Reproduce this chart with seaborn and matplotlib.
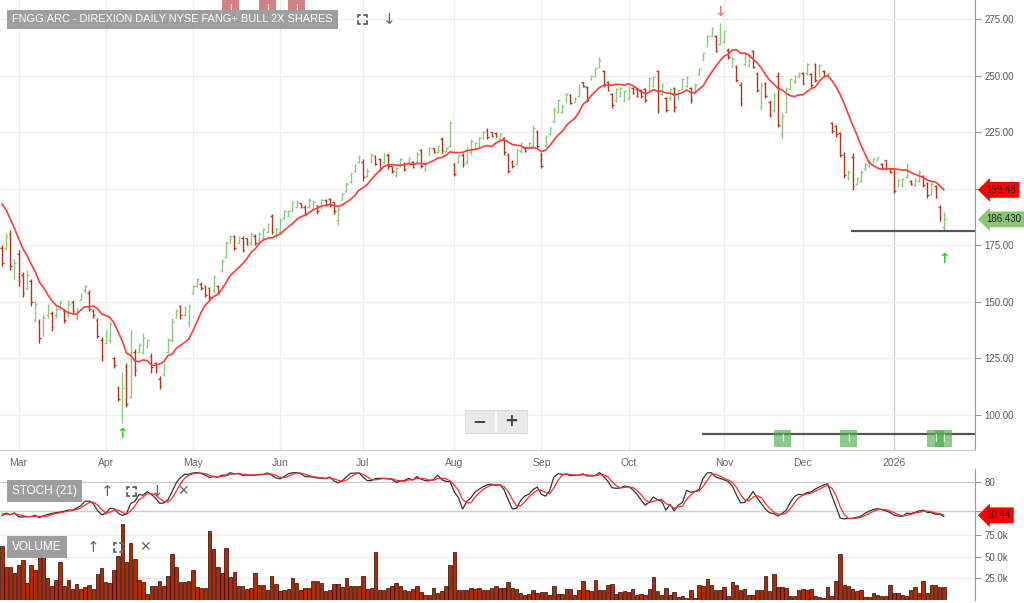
import numpy as np
import pandas as pd
import seaborn as sns
import matplotlib
import matplotlib.pyplot as plt
from matplotlib.lines import Line2D
from matplotlib.patches import FancyBboxPatch
import matplotlib.transforms as mtrans

matplotlib.use('Agg')

# ---- data (daily bars, 2025-02-25 .. 2026-01-21) ----
opens = [
    174, 174, 180, 161, 171, 162, 156, 159, 142, 141,
    136, 144, 145, 144, 147, 146, 144, 150, 143, 151,
    155, 154, 146, 142, 133, 132, 133, 125, 112, 100,
    121, 108, 128, 128, 128, 130, 126, 123, 116, 118,
    128, 133, 143, 148, 144, 141, 154, 157, 158, 157,
    156, 155, 157, 164, 170, 176, 179, 176, 178, 178,
    176, 179, 177, 178, 181, 188, 179, 181, 187, 188,
    190, 192, 193.5, 192, 192, 191, 193, 192, 195, 195.5,
    194, 186, 195, 199, 203, 208, 212, 212, 205.5, 212,
    214.5, 213, 212, 215, 210, 206, 210, 211, 211, 212,
    212, 217, 208.5, 215.5, 218, 216, 222, 216.5, 219, 211,
    212, 215, 212, 216, 217.5, 219, 222.5, 226, 225, 224.5,
    222, 222.5, 215, 212, 211, 216.5, 218, 218.5, 219, 225,
    215, 219, 224, 230, 234, 234, 239, 241.5, 238.5, 241,
    247, 245, 248.5, 250, 254, 252, 247, 242, 239, 241,
    239, 240, 244.5, 244, 243.5, 244, 243.5, 245.5, 252, 242,
    240, 240, 244.5, 240, 244, 245.5, 244.5, 243, 250.5, 257,
    263, 267.5, 267.5, 264, 265, 261.5, 254, 254, 246, 255,
    254.5, 261, 251, 236, 246.5, 238.5, 235, 250, 224, 234,
    244, 247, 249.5, 251, 251, 250.5, 255, 250, 252, 249.6,
    229, 227.5, 224.5, 215, 204.5, 214, 202, 203.5, 208.5, 210,
    211.5, 212.5, 211, 212.5, 209, 208.5, 201, 201.5, 205, 203.5,
    201.5, 203.5, 205.5, 202.5, 197.5, 201, 192, 183,
]
highs = [
    175, 180.4, 181.8, 169, 173, 163, 164, 160, 150.6, 142.4,
    144.6, 149, 146, 148.6, 151, 146.8, 150.8, 150.8, 147.7, 154,
    157.5, 155, 147, 143, 134.5, 137.6, 141.5, 125.6, 113, 119,
    123, 137.6, 129, 131.8, 136, 133.6, 127.4, 123.4, 117, 123,
    134, 142.9, 147, 148.6, 148, 149, 157.5, 160.5, 158.8, 157.5,
    156.6, 162, 157.5, 169, 177, 179.5, 179.5, 179, 179, 178,
    181, 180, 181, 182.6, 184.8, 189, 182.6, 187, 190.6, 190.6,
    194.6, 195, 193.7, 192.8, 196, 195, 193, 195.5, 195.5, 196,
    194, 192, 198, 203, 207.4, 211, 215, 213, 209, 215.8,
    215, 213.6, 215.8, 215.8, 210, 209.6, 213.6, 211.8, 214, 212.3,
    216, 217.6, 211.4, 218.4, 218, 219.3, 223, 218.4, 230, 211.4,
    215.4, 215.8, 218.4, 222, 220.6, 223, 225.5, 226.8, 225, 225,
    224.6, 223, 215.8, 212.7, 218, 220.6, 218.4, 220.6, 228, 226,
    216, 223.7, 227.3, 236, 239.6, 237, 242.3, 241.9, 240.5, 246.3,
    247, 245.4, 250.3, 253.8, 258, 252.5, 247.6, 242.3, 244.5, 245,
    243.6, 245.4, 245, 244.5, 244, 244.5, 249.4, 249.8, 252.5, 246.7,
    240.5, 244.5, 245, 244, 249, 249.8, 245, 246.7, 253.4, 260.4,
    268, 271.5, 268, 273.2, 269.7, 262, 258, 254.7, 247, 260.4,
    260, 261.3, 251.6, 247, 247, 239, 242.3, 251.6, 233.5, 245,
    249, 250.3, 251.6, 251.6, 255.5, 251, 255.5, 255, 252.5, 251.6,
    229.5, 228, 225, 216, 208.3, 215.8, 205, 208.3, 211.4, 212.7,
    213.6, 214, 211.4, 212.7, 209, 209, 204.7, 204.7, 211.4, 203.9,
    204.7, 208.3, 206, 203, 203, 201.6, 192.8, 189.7,
]
lows = [
    166, 173, 164, 160, 157, 152, 155, 148, 141, 132,
    135, 143, 137, 143, 146.8, 140.7, 142.9, 145, 142, 150.8,
    154, 146, 143, 134, 124, 131.8, 132, 120.8, 106, 96.5,
    103.5, 107.5, 117, 127.4, 127, 129.6, 118.6, 118.6, 111.5, 117,
    127.4, 132.3, 143, 142.4, 143.8, 139, 153.5, 156.6, 155, 152,
    150.8, 154, 153.5, 163, 169.8, 176, 173, 176, 172, 175,
    175, 175, 176, 177, 181, 180, 178, 180, 186, 187.5,
    189.7, 192, 191.5, 188, 191.5, 190.6, 188.8, 191, 192.4, 192,
    189, 184, 195, 198.5, 202.5, 207.4, 211.4, 203.4, 205, 211.4,
    210.5, 208, 211.4, 208.7, 207, 205, 209.6, 207.8, 210.5, 209,
    211.4, 209, 207.8, 215, 215.8, 215.8, 215.8, 216, 218.4, 205.6,
    211.4, 209.6, 211, 215, 217, 218.4, 222, 222, 223, 223,
    221.5, 215, 207, 209, 210.5, 215.8, 216, 218, 218.4, 218,
    209, 218.4, 223.7, 229, 233.5, 233.5, 238.3, 237.4, 238.3, 240.5,
    245, 238.3, 248, 249.4, 253.4, 245, 243, 235.7, 238.3, 240.5,
    238.3, 239.2, 241.9, 240.5, 240, 238.3, 243, 245, 233.5, 241.4,
    234, 239.2, 234, 239.2, 243.6, 245, 237.9, 242.3, 250.3, 256.9,
    262.6, 267, 260.4, 263.5, 264.4, 257.3, 253.8, 247, 236.6, 254.7,
    253.8, 253.4, 242.7, 234.8, 240, 231.7, 234, 227.3, 222.4, 233.5,
    243.6, 246.7, 249.4, 245.8, 250.3, 245, 247, 249.4, 249.4, 249.4,
    224.6, 223, 214, 204.7, 203.9, 199.4, 201.6, 203, 208.3, 209.6,
    211.4, 212.3, 208.7, 208.3, 207, 198, 200.8, 200.8, 204.7, 201.6,
    201.2, 203, 200.8, 196, 197, 196, 185.7, 181.8,
]
closes = [
    167, 179, 166, 167, 159, 154, 162, 150, 149, 134,
    143, 148, 139, 147, 150, 142, 149, 146, 147, 153,
    157, 147, 144, 135, 126, 136, 140, 122, 107, 112,
    105, 136, 120, 131, 134, 133, 121, 120, 113, 122,
    133, 141, 146, 144, 147, 148, 157, 160, 156, 153,
    152, 161, 154, 168, 176, 179, 174, 178, 173, 175,
    180, 176, 180, 182, 184, 181, 182, 186, 190, 190,
    194, 194.5, 192, 189, 195, 194, 190, 195, 193, 193,
    190, 191, 197.5, 202, 207, 210.5, 214.5, 205, 208, 215,
    211, 209, 215, 210, 208, 209, 213, 208.5, 213.5, 209.5,
    215.5, 210, 211, 218, 216, 219, 217, 218, 229, 206.5,
    215, 211, 218, 221, 220, 222.5, 225, 223, 223.5, 223.2,
    224, 216, 208, 210, 217, 220, 216.5, 220, 227, 219,
    210, 223, 227, 235, 239, 236.5, 242, 238, 240, 246,
    245.5, 239, 250, 253.5, 257, 246, 243.5, 237, 244, 244.5,
    243, 245, 242.5, 241, 241, 239, 249, 249.5, 235, 246,
    235, 244, 236, 243.5, 248.5, 249.5, 239, 246, 253, 260,
    267.5, 271, 261, 269, 269.5, 258, 257.5, 248, 238, 259.5,
    259, 254, 243.5, 246, 241, 232.5, 241.5, 228, 232, 244,
    248.5, 250, 251, 246.5, 255, 246, 248, 254.5, 250, 251.2,
    225.5, 224, 215, 206, 207.5, 201, 204.5, 207.5, 211, 212,
    213, 213.8, 209, 209, 207.5, 199, 204, 204.5, 210.5, 202,
    204, 207.5, 201.5, 197, 202, 196.5, 187.4, 186.43,
]
# volume in thousands
volumes = [
    61.9, 38.4, 38.4, 31.3, 41, 45.8, 20, 41, 35, 50.5,
    50.5, 25.8, 15.6, 23.5, 44, 15.6, 23.5, 12.9, 18.8, 12.9,
    15.3, 17.6, 12.9, 30, 36.8, 20.3, 20, 35, 50.9, 89,
    44, 65.7, 47, 23.5, 20.3, 6.7, 15.6, 16.4, 21.5, 15.6,
    27.4, 52.8, 38.4, 21, 21, 21.5, 35, 15.3, 14, 14,
    80, 58.7, 38.4, 31.3, 59.5, 26.6, 32.5, 15.6, 15.6, 12.9,
    14, 31, 17.6, 17.6, 12.1, 27.4, 18.8, 10, 11, 12.9,
    25.8, 20, 11, 14, 14, 21.5, 22, 20, 10, 12,
    18.8, 18.8, 15.3, 25.8, 15.6, 15.6, 16.4, 27.4, 12.9, 14,
    55.6, 12, 11, 14, 15.6, 20, 16.4, 12, 10, 12.9,
    15.6, 9.2, 6, 6, 14, 8, 10.6, 15.6, 41, 55.6,
    11, 11, 12, 14, 13, 14, 12, 12, 14, 15.6,
    14, 13.7, 20.3, 13.7, 12.5, 8, 6, 6.7, 11, 8,
    9.2, 9.2, 6, 15.6, 6.7, 6.7, 13, 13, 6, 11,
    21.5, 11, 10, 23.5, 11, 11, 17.6, 18.4, 6.7, 9.2,
    10, 9.2, 13, 6, 7, 6, 12.5, 26.2, 10, 6,
    13.7, 6, 9.2, 3.5, 5, 2.3, 12, 2.3, 17, 16.4,
    24.3, 17.6, 11, 11, 14.5, 4.3, 20.3, 17.6, 11, 13,
    5.5, 5.5, 11, 12, 27.4, 10, 30.5, 14.5, 15, 14,
    4.3, 4.3, 11, 12.5, 11, 13, 4.3, 3.5, 2.3, 15,
    5, 21.5, 52.8, 17.6, 15.6, 12.5, 10, 11, 3.5, 3.5,
    8, 6, 5, 4.3, 17.6, 8, 8, 6, 4.3, 12,
    15, 8.6, 22, 8.6, 17, 17, 15, 15,
]
# bars before the visible window, only used as indicator look-back
warm_closes = [205, 206, 208, 204, 198, 193, 188, 183, 180]
warm_highs = [209, 210, 211, 208, 203, 197, 192, 187, 184]
warm_lows = [201, 202, 204, 199, 193, 189, 183, 179, 175]

holidays = ['2025-04-18', '2025-05-26', '2025-06-19', '2025-07-04', '2025-09-01',
            '2025-11-27', '2025-12-25', '2026-01-01', '2026-01-19']
price_ticks = [100, 125, 150, 175, 200, 225, 250, 275]
vol_ticks = [25, 50, 75]
stoch_ticks = [20, 80]

title = "FNGG.ARC - DIREXION DAILY NYSE FANG+ BULL 2X SHARES"
last_close_label = "186.430"
ma_label = "199.48"
stoch_label = "10.44"

signal_up = [29, 227]
signal_up_price = [91.5, 169]
signal_down = [173]
signal_down_price = [278]
insider_sells = [55, 64, 71]
insider_buys = [188, 204, 225, 227]
support_level, support_from = 181.3, 204.5
events_level, events_from = 91.6, 168.8

n = len(closes)
assert len(opens) == n and len(highs) == n and len(lows) == n and len(volumes) == n

days = pd.bdate_range('2025-02-25', '2026-02-28')
days = days[~days.isin(pd.to_datetime(holidays))][:n]
idx = np.arange(n)

# indicators
c_all = pd.Series(warm_closes + closes, dtype=float)
h_all = pd.Series(warm_highs + highs, dtype=float)
l_all = pd.Series(warm_lows + lows, dtype=float)
w = len(warm_closes)
ma10 = c_all.rolling(10).mean().values[w:]
hh = h_all.rolling(21, min_periods=1).max()
ll = l_all.rolling(21, min_periods=1).min()
raw_k = 100 * (c_all - ll) / (hh - ll)
k_line = raw_k.rolling(3, min_periods=1).mean()
d_line = k_line.rolling(3, min_periods=1).mean()
k_line = k_line.values[w:]
d_line = d_line.values[w:]

# ---- figure ----
sns.set_style("white")
plt.rcParams['font.family'] = ['Liberation Sans', 'DejaVu Sans']

W, H = 1024, 603
fig = plt.figure(figsize=(W / 100, H / 100), dpi=100)
ax = fig.add_axes([0, 153 / H, 975 / W, 450 / H])
ax_s = fig.add_axes([0, (H - 524) / H, 975 / W, 55 / H])
ax_v = fig.add_axes([0, 3 / H, 975 / W, 76 / H])

XMIN, XMAX = -0.48, 234.5
GREEN, RED = '#8cc97c', '#b8331c'
TXT = '#555555'

for a in (ax, ax_s, ax_v):
    a.set_xlim(XMIN, XMAX)
    for s in ('top', 'left', 'bottom'):
        a.spines[s].set_visible(False)
    a.spines['right'].set_color('#999999')
    a.yaxis.tick_right()
    a.tick_params(axis='y', colors='#999999', labelcolor=TXT, labelsize=7,
                  length=4, width=0.8, pad=3)
    a.set_xticks([])

# month grid + labels
month_pos, month_lab = [], []
for i, d in enumerate(days):
    if i > 0 and d.month != days[i - 1].month:
        month_pos.append(i)
        month_lab.append(str(d.year) if d.month == 1 else d.strftime('%b'))
for p, lab in zip(month_pos, month_lab):
    ax.axvline(p, color='#c8c8c8' if lab == '2026' else '#eeeeee', lw=0.9, zorder=0)
ax.set_xticks(month_pos)
ax.set_xticklabels(month_lab)
ax.tick_params(axis='x', length=0, labelsize=7.5, labelcolor='#666666', pad=6)
for t in ax.get_xticklabels():
    t.set_fontfamily(['Liberation Sans Narrow', 'Liberation Sans', 'DejaVu Sans'])
ax.spines['bottom'].set_visible(True)
ax.spines['bottom'].set_color('#cccccc')

# price panel (the 200 label sits under the MA tag, as in the source)
ax.set_ylim(84.5, 283.4)
ax.set_yticks(price_ticks)
ax.set_yticklabels(['' if v == 200 else f"{v:.2f}" for v in price_ticks])
for v in price_ticks:
    ax.axhline(v, color='#eeeeee', lw=0.9, zorder=0)

op, hi, lo, cl = map(np.array, (opens, highs, lows, closes))
col = np.where(cl >= op, GREEN, RED)
ax.vlines(idx, lo, hi, colors=col, lw=1.0, zorder=3)
ax.hlines(op, idx - 0.4, idx, colors=col, lw=1.0, zorder=3)
ax.hlines(cl, idx, idx + 0.4, colors=col, lw=1.0, zorder=3)

sns.lineplot(x=idx, y=ma10, ax=ax, color='#ff3b3b', linewidth=1.2, zorder=4)

ax.hlines(support_level, support_from, XMAX, color='#555555', lw=1.6, zorder=4)
ax.hlines(events_level, events_from, XMAX, color='#555555', lw=1.6, zorder=4)

for i, p in zip(signal_up, signal_up_price):
    ax.text(i, p, '↑', color='#33cc33', fontsize=10, fontweight='bold',
            ha='center', va='center', family='DejaVu Sans', zorder=5)
for i, p in zip(signal_down, signal_down_price):
    ax.text(i, p, '↓', color='#f08080', fontsize=10, fontweight='bold',
            ha='center', va='center', family='DejaVu Sans', zorder=5)

ax.scatter(insider_buys, [events_level - 2.2] * len(insider_buys), marker='s', s=150,
           color='#4cae4c', alpha=0.65, edgecolors='none', zorder=6, clip_on=False)
for i in insider_buys:
    ax.text(i, events_level - 2.2, 'I', color='white', fontsize=7, ha='center',
            va='center', zorder=7)
ax.scatter(insider_sells, [279.6] * len(insider_sells), marker='s', s=150,
           color='#b03030', alpha=0.6, edgecolors='none', zorder=6, clip_on=False)
for i in insider_sells:
    ax.text(i, 279.6, 'I', color='white', fontsize=7, ha='center', va='center', zorder=7)

bt = mtrans.blended_transform_factory(ax.transAxes, ax.transData)
ax.text(1.012, ma10[-1], ma_label, transform=bt, fontsize=7, color='#222222',
        va='center', ha='left', zorder=8, clip_on=False,
        bbox=dict(boxstyle='larrow,pad=0.3', fc='#ff0000', ec='none'))
ax.text(1.012, closes[-1], last_close_label, transform=bt, fontsize=7, color='#222222',
        va='center', ha='left', zorder=8, clip_on=False,
        bbox=dict(boxstyle='larrow,pad=0.3', fc='#8cc47a', ec='none'))

# stochastic panel (the 20 label sits under the value tag)
ax_s.set_ylim(-7.5, 106.3)
ax_s.set_yticks(stoch_ticks)
ax_s.set_yticklabels(['' if v == 20 else str(v) for v in stoch_ticks])
for v in stoch_ticks:
    ax_s.axhline(v, color='#cccccc', lw=1.0, zorder=0)
sns.lineplot(x=idx, y=k_line, ax=ax_s, color='#333333', linewidth=0.9, zorder=3)
sns.lineplot(x=idx, y=d_line, ax=ax_s, color='#ff2a2a', linewidth=0.9, zorder=4)
ax_s.spines['bottom'].set_visible(True)
ax_s.spines['bottom'].set_color('#cccccc')
bts = mtrans.blended_transform_factory(ax_s.transAxes, ax_s.transData)
ax_s.text(1.012, 10.44, stoch_label, transform=bts, fontsize=7, color='#222222',
          va='center', ha='left', zorder=8, clip_on=False,
          bbox=dict(boxstyle='larrow,pad=0.3', fc='#ff0000', ec='none'))

# volume panel
ax_v.set_ylim(0, 87.8)
ax_v.set_yticks(vol_ticks)
ax_v.set_yticklabels([f"{v:.1f}k" for v in vol_ticks])
for v in vol_ticks:
    ax_v.axhline(v, color='#eeeeee', lw=0.9, zorder=0)
sns.barplot(x=idx, y=np.array(volumes), ax=ax_v, native_scale=True, width=0.85,
            color='#b02a08', saturation=1, edgecolor='#2a0800', linewidth=0.5,
            errorbar=None, zorder=3)

for a in (ax, ax_s, ax_v):
    a.set_xlabel('')
    a.set_ylabel('')
    a.set_xlim(XMIN, XMAX)
ax_s.set_xticks([])
ax_v.set_xticks([])


# ---- overlay chrome (pixel positions) ----
def fpt(x, y):
    return x / W, 1 - y / H


def label_box(x, y, s, size=8.5):
    fig.text(*fpt(x, y), s, color='white', fontsize=size, ha='left', va='center',
             bbox=dict(boxstyle='square,pad=0.45', fc='#9e9e9e', ec='none'), zorder=10)


def icon(x, y, s, size=10):
    fig.text(*fpt(x, y), s, color='#666666', fontsize=size, ha='center', va='center',
             family='DejaVu Sans', zorder=10)


def fullscreen(cx, cy, r=4.5, arm=2.5):
    for sx in (-1, 1):
        for sy in (-1, 1):
            x0, y0 = cx + sx * r, cy + sy * r
            xs = [x0 - sx * arm, x0, x0]
            ys = [y0, y0, y0 - sy * arm]
            fig.add_artist(Line2D([v / W for v in xs], [1 - v / H for v in ys],
                                  transform=fig.transFigure, color='#666666', lw=1.4))


label_box(12, 19.5, title, size=7.9)
fullscreen(362, 19)
icon(389, 19, '↓', 11)

label_box(12, 491, 'STOCH (21)', size=8.5)
icon(107, 491, '↑', 11)
fullscreen(131, 491)
icon(157, 491, '↓', 11)
icon(183, 491, '✕', 10)

label_box(12, 547, 'VOLUME', size=8.5)
icon(93, 547, '↑', 11)
fullscreen(118, 547)
icon(145, 547, '✕', 10)

bx0, by0 = fpt(465, 433)
fig.add_artist(FancyBboxPatch((bx0, by0), 62 / W, 23 / H, boxstyle='square,pad=0',
                              transform=fig.transFigure, fc='#e9e9e9', ec='#dddddd',
                              lw=0.8, zorder=9))
fig.add_artist(Line2D([496 / W, 496 / W], [1 - 412 / H, 1 - 431 / H],
                      transform=fig.transFigure, color='white', lw=1.2, zorder=10))
fig.text(*fpt(479, 421.5), '−', fontsize=12, fontweight='bold', color='#444444',
         ha='center', va='center', family='DejaVu Sans', zorder=11)
fig.text(*fpt(511, 421.5), '+', fontsize=12, fontweight='bold', color='#444444',
         ha='center', va='center', family='DejaVu Sans', zorder=11)

fig.savefig('out.png', dpi=100)
